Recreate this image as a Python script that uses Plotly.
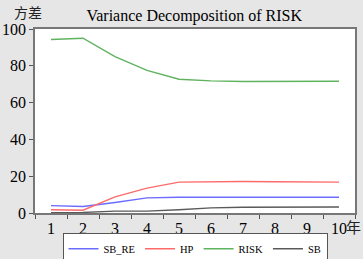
import plotly.graph_objects as go

periods = ["1", "2", "3", "4", "5", "6", "7", "8", "9", "10"]
sb_re = [4.0, 3.5, 5.7, 8.2, 8.6, 8.6, 8.6, 8.6, 8.6, 8.6]
hp = [1.8, 1.5, 8.8, 13.5, 16.8, 17.1, 17.1, 17.0, 16.9, 16.8]
risk = [94.3, 95.0, 85.0, 77.5, 72.7, 71.8, 71.5, 71.5, 71.6, 71.6]
sb = [0.2, 0.3, 1.0, 1.0, 1.8, 2.8, 3.1, 3.2, 3.3, 3.3]

series = [("SB_RE", sb_re, "#6b6bff"), ("HP", hp, "#ff6b6b"),
          ("RISK", risk, "#5fb35f"), ("SB", sb, "#5a5a5a")]

fig = go.Figure()
for name, vals, col in series:
    fig.add_trace(go.Scatter(x=periods, y=vals, name=name, mode="lines",
                             line=dict(color=col, width=1.4)))

font = "Liberation Serif, Times New Roman, serif"
fig.update_layout(
    width=363, height=259,
    margin=dict(l=35, r=8, t=29, b=46, autoexpand=False),
    paper_bgcolor="#e6e6e6", plot_bgcolor="white",
    font=dict(family=font, size=15, color="black"),
    title=dict(text="Variance Decomposition of RISK", x=0.535, xanchor="center",
               y=0.942, yanchor="middle", font=dict(size=16, family=font)),
    showlegend=True,
    legend=dict(orientation="h", x=0.5, xanchor="center", y=-0.11, yanchor="top",
                bgcolor="white", bordercolor="#555", borderwidth=1,
                font=dict(size=10.5, family=font),
                tracegroupgap=0, itemwidth=30),
)
fig.update_xaxes(type="category", range=[-0.5, 9.5], tickson="boundaries",
                 ticks="outside", ticklen=4, tickcolor="#555",
                 showline=True, linecolor="#777", linewidth=1.5, mirror=True,
                 showgrid=False, zeroline=False, tickfont=dict(size=16))
fig.update_yaxes(range=[0, 100], tickvals=[0, 20, 40, 60, 80, 100],
                 ticks="outside", ticklen=4, tickcolor="#555",
                 showline=True, linecolor="#777", linewidth=1.5, mirror=True,
                 showgrid=False, zeroline=False, tickfont=dict(size=16))
fig.add_annotation(text="方差", xref="paper", yref="paper", x=-0.022, y=1.092,
                   xanchor="center", yanchor="middle", showarrow=False,
                   font=dict(size=14, family="Noto Sans CJK SC", color="#222"))
fig.add_annotation(text="年", xref="paper", yref="paper", x=1.025, y=-0.076,
                   xanchor="right", yanchor="middle", showarrow=False,
                   font=dict(size=15, family="Noto Sans CJK SC", color="#222"))
fig.write_html("out.html", config={"displayModeBar": False},
               post_script="document.body.style.margin='0';document.body.style.overflow='hidden';")
